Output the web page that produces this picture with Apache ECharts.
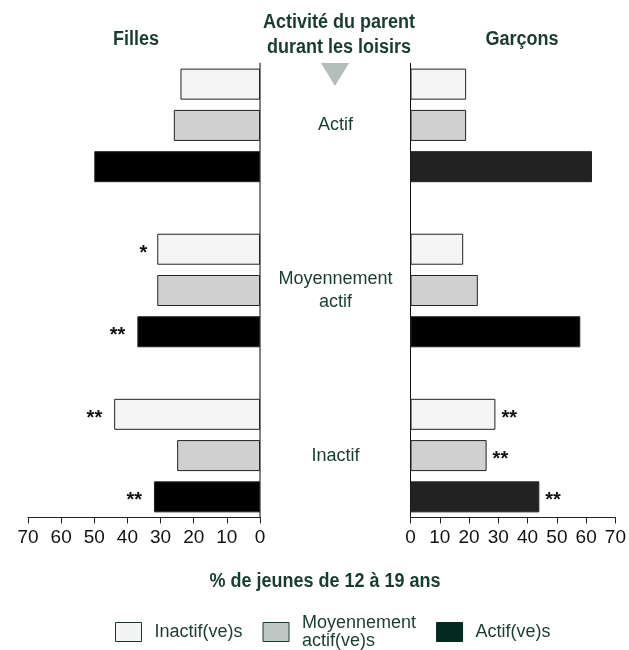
<!DOCTYPE html>
<html>
<head>
<meta charset="utf-8">
<script src="https://cdn.jsdelivr.net/npm/echarts@6/dist/echarts.min.js"></script>
<style>
  html, body { margin: 0; padding: 0; background: #fff; }
  #chart { width: 629px; height: 650px; }
</style>
</head>
<body>
<div id="chart"></div>
<script>
// données (% de jeunes de 12 à 19 ans)
const groups = ['Actif', 'Moyennement\nactif', 'Inactif'];
const seriesNames = ['Inactif(ve)s', 'Moyennement actif(ve)s', 'Actif(ve)s'];
const xTicks = [0, 10, 20, 30, 40, 50, 60, 70];

const fillesInactif = [24, 31, 44];
const fillesMoyen = [26, 31, 25];
const fillesActif = [50, 37, 32];
const garconsInactif = [19, 18, 29];
const garconsMoyen = [19, 23, 26];
const garconsActif = [62, 58, 44];

// astérisques de signification
const fillesInactifSig = ['', '*', '**'];
const fillesMoyenSig = ['', '', ''];
const fillesActifSig = ['', '**', '**'];
const garconsInactifSig = ['', '', '**'];
const garconsMoyenSig = ['', '', '**'];
const garconsActifSig = ['', '', '**'];

const FONT = "'Liberation Sans', Arial, sans-serif";
const GREEN = '#183d30';

// 4 positions par groupe (3 barres + un vide)
const nSlots = groups.length * 4 - 1;
const slots = [];
for (let i = 0; i < nSlots; i++) slots.push('s' + i);
const slotLabel = {};
groups.forEach(function (g, i) { slotLabel['s' + (i * 4 + 1)] = g; });

function toSlots(values, sig, bar, side, colors) {
  const out = [];
  for (let i = 0; i < nSlots; i++) out.push('-');
  values.forEach(function (v, i) {
    const item = { value: v };
    if (colors) item.itemStyle = { color: colors[i] };
    if (sig[i]) {
      item.label = {
        show: true,
        formatter: sig[i],
        position: side === 'left' ? 'left' : 'right',
        distance: side === 'left' ? (sig[i].length > 1 ? 12 : 10) : 6
      };
    }
    out[i * 4 + bar] = item;
  });
  return out;
}

function barSeries(name, idx, values, sig, bar, side, color, colors) {
  return {
    name: name,
    type: 'bar',
    xAxisIndex: idx,
    yAxisIndex: idx,
    barWidth: 31,
    barGap: '-100%',
    data: toSlots(values, sig, bar, side, colors),
    itemStyle: { color: color, borderColor: '#222', borderWidth: 1 },
    label: { color: '#111', fontSize: 20, fontWeight: 'bold', fontFamily: FONT, offset: [0, 4] },
    emphasis: { disabled: true },
    animation: false
  };
}

function xAxisFor(idx, inverse) {
  return {
    type: 'value',
    gridIndex: idx,
    min: 0,
    max: 70,
    interval: 10,
    inverse: inverse,
    axisLine: { show: true, lineStyle: { color: '#222', width: 1 } },
    axisTick: { show: true, length: 6, lineStyle: { color: '#222' } },
    splitLine: { show: false },
    axisLabel: {
      color: '#111', fontSize: 19, fontFamily: FONT, margin: 11,
      customValues: xTicks
    }
  };
}

function titleText(x, y, text) {
  return {
    type: 'text', x: x, y: y, scaleX: 0.9,
    style: {
      text: text, font: 'bold 20px ' + FONT, lineHeight: 25, fill: GREEN,
      align: 'center', verticalAlign: 'middle', textAlign: 'center', textVerticalAlign: 'middle'
    }
  };
}

const chart = echarts.init(document.getElementById('chart'));
chart.setOption({
  backgroundColor: '#fff',
  animation: false,
  grid: [
    { left: 28, right: 369, top: 63.5, bottom: 132.5 },
    { left: 410.5, right: 12.5, top: 63.5, bottom: 132.5 }
  ],
  xAxis: [xAxisFor(0, true), xAxisFor(1, false)],
  yAxis: [
    {
      type: 'category', gridIndex: 0, data: slots, inverse: true, position: 'right',
      axisLine: { show: true, lineStyle: { color: '#808080', width: 2 } },
      axisTick: { show: false }, axisLabel: { show: false }
    },
    {
      type: 'category', gridIndex: 1, data: slots, inverse: true, position: 'left',
      axisLine: { show: true, lineStyle: { color: '#111', width: 1 } },
      axisTick: { show: false },
      axisLabel: {
        interval: 0, margin: 75, align: 'center',
        color: GREEN, fontSize: 18, lineHeight: 23, fontFamily: FONT,
        formatter: function (v) { return slotLabel[v] || ''; }
      }
    }
  ],
  legend: {
    left: 110,
    top: 609,
    itemWidth: 26,
    itemHeight: 19,
    itemGap: 20,
    selectedMode: false,
    textStyle: { color: GREEN, fontSize: 18, lineHeight: 18, fontFamily: FONT, padding: [0, 0, 0, 8] },
    formatter: function (n) { return n.replace('Moyennement ', 'Moyennement\n'); },
    data: [
      { name: seriesNames[0], icon: 'rect', itemStyle: { color: '#f2f4f3', borderColor: '#1d3a30', borderWidth: 1 } },
      { name: seriesNames[1], icon: 'rect', itemStyle: { color: '#c0c8c5', borderColor: '#1d3a30', borderWidth: 1 } },
      { name: seriesNames[2], icon: 'rect', itemStyle: { color: '#032a20', borderColor: '#032a20', borderWidth: 1 } }
    ]
  },
  graphic: [
    titleText(136, 39, 'Filles'),
    titleText(522, 39, 'Garçons'),
    titleText(339, 35, 'Activité du parent\ndurant les loisirs'),
    titleText(325, 581, '% de jeunes de 12 à 19 ans'),
    { type: 'polygon', shape: { points: [[321, 63], [349, 63], [335, 86]] }, style: { fill: '#b3bdb9' } }
  ],
  series: [
    barSeries(seriesNames[0], 0, fillesInactif, fillesInactifSig, 0, 'left', '#f5f5f5'),
    barSeries(seriesNames[1], 0, fillesMoyen, fillesMoyenSig, 1, 'left', '#d0d0d0'),
    barSeries(seriesNames[2], 0, fillesActif, fillesActifSig, 2, 'left', '#000'),
    barSeries(seriesNames[0], 1, garconsInactif, garconsInactifSig, 0, 'right', '#f5f5f5'),
    barSeries(seriesNames[1], 1, garconsMoyen, garconsMoyenSig, 1, 'right', '#d0d0d0'),
    barSeries(seriesNames[2], 1, garconsActif, garconsActifSig, 2, 'right', '#222', ['#222', '#000', '#222'])
  ]
});
</script>
</body>
</html>
